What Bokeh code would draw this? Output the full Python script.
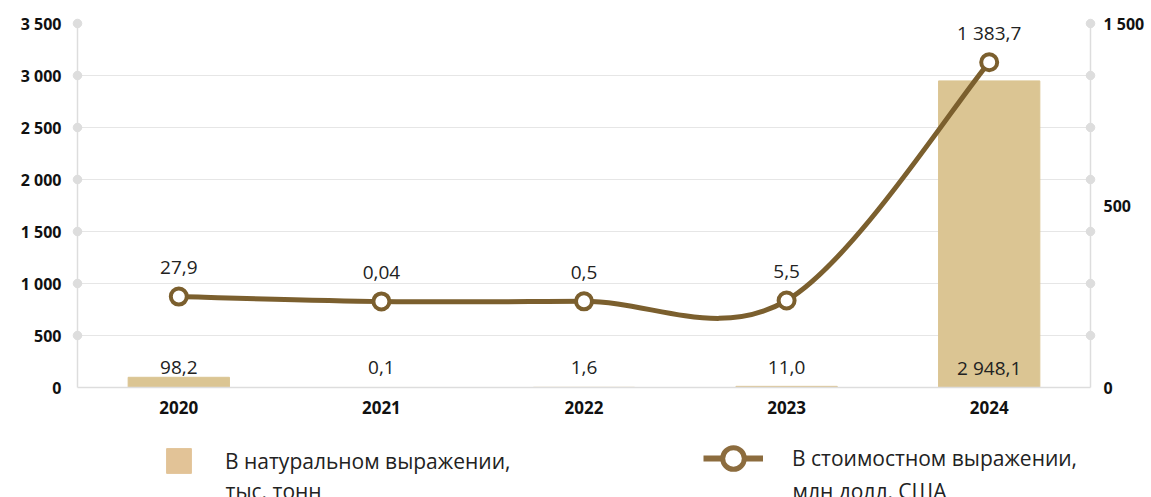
from bokeh.plotting import figure
from bokeh.layouts import column
from bokeh.models import (Range1d, LinearAxis, FixedTicker, Legend, LegendItem, Label)
from bokeh.core.properties import value
from bokeh.embed import file_html
from bokeh.resources import INLINE

# ---------------- data ----------------
years = ["2020", "2021", "2022", "2023", "2024"]
volume_kt = [98.2, 0.1, 1.6, 11.0, 2948.1]          # тыс. тонн (left axis)
value_musd = [27.9, 0.04, 0.5, 5.5, 1383.7]        # млн долл. США (right axis)
left_ticks = [0, 500, 1000, 1500, 2000, 2500, 3000, 3500]
right_tick_labels = ["0", "500", "1 500"]
legend_bar = ["В натуральном выражении,", "тыс. тонн"]
legend_line = ["В стоимостном выражении,", "млн долл. США"]

FONT = "Open Sans"
BAR_C = "#DBC593"
LINE_C = "#7B5F2E"
GRID_C = "#E6E6E6"
AXIS_C = "#DDDDDD"
TXT_C = "#222222"
LAB_C = "#111111"
W = 1151
BL, BR = 77, 61   # frame borders (left / right)


def fmt(v):
    s = repr(float(v))
    dec = max(1, len(s.split(".")[1]))
    return f"{v:,.{dec}f}".replace(",", " ").replace(".", ",")


def style_axis(ax, size, standoff):
    ax.major_label_text_font = FONT
    ax.major_label_text_font_style = "bold"
    ax.major_label_text_font_size = size
    ax.major_label_text_color = LAB_C
    ax.major_tick_in = 0
    ax.major_tick_out = 0
    ax.minor_tick_line_color = None
    ax.axis_line_color = AXIS_C
    ax.axis_line_width = 1.5
    ax.major_label_standoff = standoff


xs = list(range(len(years)))

p = figure(width=W, height=430, output_backend="svg", toolbar_location=None,
           x_range=Range1d(-0.5, len(years) - 0.5), y_range=Range1d(0, 3500),
           min_border_left=BL, min_border_right=BR, min_border_top=23,
           min_border_bottom=43)
p.outline_line_color = None

# right range (line series)
r_lo, r_hi = -498, 1608
p.extra_y_ranges = {"right": Range1d(r_lo, r_hi)}

xa = p.xaxis[0]
xa.ticker = FixedTicker(ticks=xs)
xa.major_label_overrides = {i: y for i, y in enumerate(years)}
style_axis(xa, "17px", 13)

ya = p.yaxis[0]
ya.ticker = FixedTicker(ticks=left_ticks)
ya.major_label_overrides = {t: f"{t:,}".replace(",", " ") for t in left_ticks}
style_axis(ya, "16px", 16)

r_mid = round((r_lo + r_hi) / 2)
r_ticks = [r_lo, r_mid, r_hi]
ra = LinearAxis(y_range_name="right")
ra.ticker = FixedTicker(ticks=r_ticks)
ra.major_label_overrides = {t: lab for t, lab in zip(r_ticks, right_tick_labels)}
style_axis(ra, "16px", 13)
p.add_layout(ra, "right")

p.xgrid.grid_line_color = None
p.ygrid.ticker = FixedTicker(ticks=left_ticks)
p.ygrid.grid_line_color = GRID_C
p.ygrid.grid_line_width = 1

# gridline end dots
dot_y = [t for t in left_ticks if t > 0]
p.scatter(x=[-0.5] * len(dot_y) + [len(years) - 0.5] * len(dot_y), y=dot_y * 2,
          size=8.5, color=AXIS_C, level="overlay")

# bars
p.vbar(x=xs, top=volume_kt, width=0.5, color=BAR_C)

# bar labels
p.text(x=xs, y=[0] * len(xs), text=[fmt(v) for v in volume_kt], y_offset=-20,
       text_align="center", text_baseline="middle", text_font=value(FONT),
       text_font_size="19px", text_color=TXT_C)

# smooth line (Catmull-Rom as cubic Bezier segments)
n = len(xs)
P = list(zip(xs, value_musd))
x0, y0, x1, y1, cx0, cy0, cx1, cy1 = ([] for _ in range(8))
for i in range(n - 1):
    pm, pa, pb, pn = P[max(i - 1, 0)], P[i], P[i + 1], P[min(i + 2, n - 1)]
    x0.append(pa[0]); y0.append(pa[1]); x1.append(pb[0]); y1.append(pb[1])
    cx0.append(pa[0] + (pb[0] - pm[0]) / 6); cy0.append(pa[1] + (pb[1] - pm[1]) / 6)
    cx1.append(pb[0] - (pn[0] - pa[0]) / 6); cy1.append(pb[1] - (pn[1] - pa[1]) / 6)
p.bezier(x0=x0, y0=y0, x1=x1, y1=y1, cx0=cx0, cy0=cy0, cx1=cx1, cy1=cy1,
         line_color=LINE_C, line_width=5, line_cap="round", y_range_name="right")
p.scatter(x=xs, y=value_musd, size=16, fill_color="white", line_color=LINE_C,
          line_width=4, y_range_name="right")

# line labels
p.text(x=xs, y=value_musd, text=[fmt(v) for v in value_musd], y_offset=-29,
       text_align="center", text_baseline="middle", text_font=value(FONT),
       text_font_size="19px", text_color=TXT_C, y_range_name="right")

# ---------------- legend panel ----------------
LH = 67
lg = figure(width=W, height=LH, output_backend="svg", toolbar_location=None,
            x_range=Range1d(0, 100), y_range=Range1d(0, 100),
            min_border_left=BL, min_border_right=BR, min_border_top=0,
            min_border_bottom=0)
lg.axis.visible = False
lg.grid.visible = False
lg.outline_line_color = None

# proxy renderers for the legend swatches (kept outside the visible range)
leg_bar = lg.vbar(x=[-50], top=[-50], width=1, color="#E2C397")
leg_line = lg.line(x=[-60, -50], y=[-50, -50], line_color="#8C6C3E", line_width=6)
leg_mark = lg.scatter(x=[-50], y=[-50], size=10, fill_color="white",
                      line_color="#8C6C3E", line_width=5)


def mk_legend(items, page_x, y, gw, gh, standoff):
    L = Legend(items=items, location=(page_x - BL, y), orientation="horizontal",
               glyph_width=gw, glyph_height=gh, label_standoff=standoff,
               padding=0, margin=0, spacing=0, border_line_alpha=0,
               background_fill_alpha=0, label_text_font=FONT,
               label_text_font_size="21px", label_text_color=TXT_C)
    lg.add_layout(L, "center")


mk_legend([LegendItem(label=legend_bar[0], renderers=[leg_bar])], 163, 21, 31, 31, 31)
mk_legend([LegendItem(label=legend_line[0], renderers=[leg_line, leg_mark])],
          703, 12, 60, 54, 29)

for txt, page_x in ((legend_bar[1], 225), (legend_line[1], 792)):
    lg.add_layout(Label(x=page_x - BL, y=7, x_units="screen", y_units="screen",
                        text=txt, text_font=FONT, text_font_size="21px",
                        text_color=TXT_C, text_baseline="alphabetic"))

layout = column(p, lg, spacing=0)
open("out.html", "w").write(file_html(layout, INLINE))
